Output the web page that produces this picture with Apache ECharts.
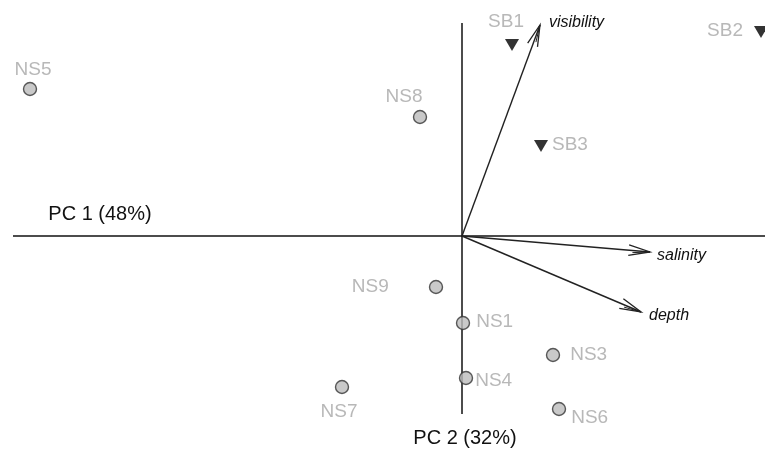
<!DOCTYPE html>
<html>
<head>
<meta charset="utf-8">
<script src="https://cdn.jsdelivr.net/npm/echarts@6/dist/echarts.min.js"></script>
<style>html,body{margin:0;padding:0;background:#fff}#c{width:765px;height:451px}</style>
</head>
<body>
<div id="c"></div>
<script>
// Site scores (PC1, PC2)
const nsNames = ['NS5','NS8','NS9','NS1','NS3','NS4','NS7','NS6'];
const nsPC1 = [-4.32, -0.42, -0.26, 0.01, 0.91, 0.04, -1.20, 0.97];
const nsPC2 = [1.47, 1.19, -0.51, -0.87, -1.19, -1.42, -1.51, -1.73];
const sbNames = ['SB1','SB2','SB3'];
const sbPC1 = [0.50, 2.99, 0.79];
const sbPC2 = [1.91, 2.04, 0.90];
// Environmental vectors
const varNames = ['visibility','salinity','depth'];
const varPC1 = [0.78, 1.88, 1.79];
const varPC2 = [2.11, -0.16, -0.76];
// Axis lines extent
const axisPC1Extent = [-4.49, 3.03];
const axisPC2Extent = [-1.78, 2.13];
const axisTitles = ['PC 1 (48%)', 'PC 2 (32%)'];

const gray = '#a6a6a6';
const FONT = '"Liberation Sans", Arial, sans-serif';
const labelPlace = {
  NS5: {position:'top', distance:3, offset:[3,0]},
  NS8: {position:'top', distance:4, offset:[-16,0]},
  NS9: {position:'left', distance:40, offset:[0,0]},
  NS1: {position:'right', distance:6, offset:[0,-1]},
  NS3: {position:'right', distance:10, offset:[0,0]},
  NS4: {position:'right', distance:2, offset:[0,3]},
  NS7: {position:'bottom', distance:8, offset:[-3,0]},
  NS6: {position:'right', distance:5, offset:[0,9]},
  SB1: {position:'top', distance:8, offset:[-6,0]},
  SB2: {position:'left', distance:11, offset:[0,-1]},
  SB3: {position:'right', distance:4, offset:[0,-1]}
};
const varLabelOffset = {visibility:[9,-2], salinity:[7,4], depth:[8,4]};

function pts(names, xs, ys){
  return names.map((n,i)=>({name:n, value:[xs[i], ys[i]],
    label:Object.assign({show:true}, labelPlace[n])}));
}

const chart = echarts.init(document.getElementById('c'));
chart.setOption({
  animation:false,
  backgroundColor:'#fff',
  grid:{left:0,right:0,top:0,bottom:0},
  xAxis:{type:'value', min:-4.62, max:3.03, show:false},
  yAxis:{type:'value', min:-2.15, max:2.36, show:false},
  series:[
    {type:'line', data:[[axisPC1Extent[0],0],[axisPC1Extent[1],0]], symbol:'none',
     lineStyle:{color:'#111', width:1.5}, silent:true, z:1},
    {type:'line', data:[[0,axisPC2Extent[0]],[0,axisPC2Extent[1]]], symbol:'none',
     lineStyle:{color:'#111', width:1.5}, silent:true, z:1},
    {type:'custom', z:2, silent:true,
     data:varNames.map((n,i)=>[varPC1[i], varPC2[i], n]),
     renderItem:function(params, api){
       const o = api.coord([0,0]);
       const t = api.coord([api.value(0), api.value(1)]);
       const name = varNames[params.dataIndex];
       const ang = Math.atan2(t[1]-o[1], t[0]-o[0]);
       const L = 22, a = 0.24;
       const h1 = [t[0]-L*Math.cos(ang-a), t[1]-L*Math.sin(ang-a)];
       const h2 = [t[0]-L*Math.cos(ang+a), t[1]-L*Math.sin(ang+a)];
       const h3 = [t[0]-L*0.8*Math.cos(ang-a*0.5), t[1]-L*0.8*Math.sin(ang-a*0.5)];
       const off = varLabelOffset[name];
       return {type:'group', children:[
         {type:'line', shape:{x1:o[0],y1:o[1],x2:t[0],y2:t[1]}, style:{stroke:'#222', lineWidth:1.4}},
         {type:'polyline', shape:{points:[h1,t,h2]}, style:{stroke:'#222', lineWidth:1.3, fill:null}},
         {type:'line', shape:{x1:h3[0],y1:h3[1],x2:t[0],y2:t[1]}, style:{stroke:'#222', lineWidth:1}},
         {type:'text', x:t[0]+off[0], y:t[1]+off[1], style:{text:name, fill:'#111',
           font:'italic 16px ' + FONT, textAlign:'left', textVerticalAlign:'middle'}}
       ]};
     }},
    {type:'scatter', z:3, data:pts(nsNames, nsPC1, nsPC2), symbol:'circle', symbolSize:13,
     itemStyle:{color:'#bcbcbc', borderColor:'#333', borderWidth:1.4},
     label:{color:gray, fontSize:19, fontFamily:FONT, formatter:'{b}'}},
    {type:'scatter', z:3, data:pts(sbNames, sbPC1, sbPC2), symbol:'triangle', symbolRotate:180, symbolSize:[14,12],
     itemStyle:{color:'#000'},
     label:{color:gray, fontSize:19, fontFamily:FONT, formatter:'{b}'}}
  ],
  graphic:[
    {type:'text', x:100, y:214, style:{text:axisTitles[0], fill:'#111', font:'20px ' + FONT, textAlign:'center', textVerticalAlign:'middle'}},
    {type:'text', x:465, y:438, style:{text:axisTitles[1], fill:'#111', font:'20px ' + FONT, textAlign:'center', textVerticalAlign:'middle'}}
  ]
});
</script>
</body>
</html>
